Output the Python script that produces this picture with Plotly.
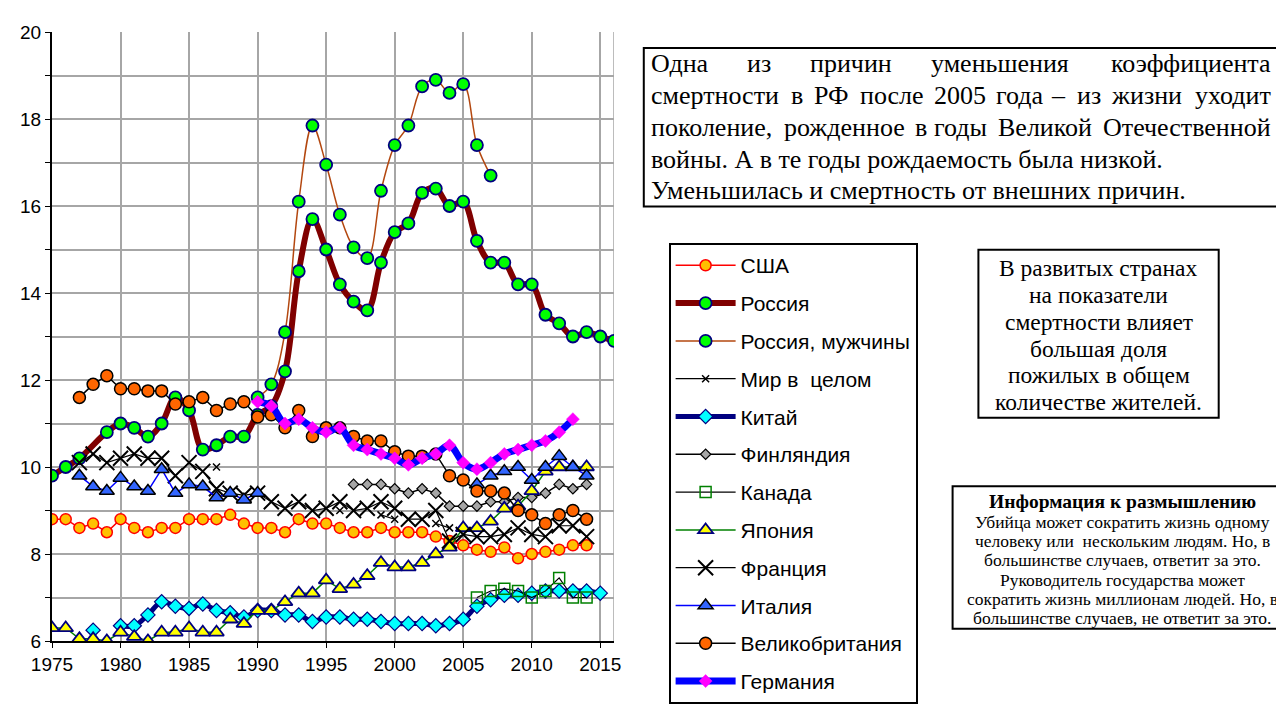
import plotly.graph_objects as go

# ---------------- data (crude death rate, per 1000) ----------------
usa_years = list(range(1975, 2015))
usa = [8.8, 8.8, 8.6, 8.7, 8.5, 8.8, 8.6, 8.5, 8.6, 8.6, 8.8, 8.8, 8.8, 8.9, 8.7,
       8.6, 8.6, 8.5, 8.8, 8.7, 8.7, 8.6, 8.5, 8.5, 8.6, 8.5, 8.5, 8.5, 8.4, 8.3,
       8.2, 8.1, 8.05, 8.15, 7.9, 8.0, 8.05, 8.1, 8.2, 8.2]

russia_years = list(range(1975, 2017))
russia = [9.8, 10.0, 10.2, None, 10.8, 11.0, 10.9, 10.7, 11.0, 11.6, 11.3, 10.4, 10.5, 10.7,
          10.7, 11.2, 11.4, 12.2, 14.5, 15.7, 15.0, 14.2, 13.8, 13.6, 14.7, 15.4, 15.6,
          16.3, 16.4, 16.0, 16.1, 15.2, 14.7, 14.7, 14.2, 14.2, 13.5, 13.3, 13.0, 13.1,
          13.0, 12.9]

russia_m_years = list(range(1990, 2008))
russia_m = [11.6, 11.9, 13.1, 16.1, 17.85, 16.95, 15.8, 15.05, 14.8, 16.35, 17.4, 17.85,
            18.75, 18.9, 18.6, 18.8, 17.4, 16.7]

world_years = [1987, 1988, 1996, 1997, 1999, 2000, 2001, 2003, 2004]
world = [10.0, None, 9.0, None, 8.9, 8.8, None, 8.7, 8.6]

china_years = list(range(1978, 2016))
china = [6.25, None, 6.35, 6.35, 6.6, 6.9, 6.8, 6.75, 6.85, 6.7, 6.65, 6.55, 6.7, 6.7,
         6.6, 6.6, 6.45, 6.55, 6.55, 6.5, 6.5, 6.45, 6.4, 6.4, 6.4, 6.35, 6.4, 6.5,
         6.8, 6.95, 7.05, 7.05, 7.1, 7.15, 7.15, 7.15, 7.15, 7.1]

finland_years = list(range(1997, 2015))
finland = [9.6, 9.6, 9.6, 9.5, 9.4, 9.5, 9.4, 9.1, 9.1, 9.1, 9.2, 9.2, 9.3, 9.3, 9.4,
           9.6, 9.5, 9.6]

canada_years = list(range(2006, 2015))
canada = [7.0, 7.15, 7.2, 7.15, 7.0, 7.15, 7.45, 7.0, 7.0]

japan_years = list(range(1975, 2015))
japan = [6.3, 6.3, 6.05, 6.05, 6.0, 6.2, 6.1, 6.0, 6.2, 6.2, 6.3, 6.2, 6.2, 6.5, 6.4,
         6.7, 6.7, 6.9, 7.1, 7.1, 7.4, 7.2, 7.3, 7.5, 7.8, 7.7, 7.7, 7.8, 8.0, 8.15,
         8.6, 8.6, 8.75, 9.05, 9.1, 9.45, 9.9, 10.0, 10.0, 10.0]

france_years = list(range(1977, 2015))
france = [10.1, 10.3, 10.1, 10.2, 10.3, 10.2, 10.2, 9.8, 10.1, 9.9, 9.5, 9.4, 9.35, 9.4,
          9.2, 9.05, 9.2, 9.0, 9.05, 9.2, 9.0, 9.05, 9.2, 9.05, 8.8, 8.8, 9.0, 8.3,
          8.45, 8.4, 8.4, 8.45, 8.6, 8.45, 8.4, 8.65, 8.65, 8.4]

italy_years = list(range(1977, 1991)) + [1998] + list(range(2006, 2015))
italy = [9.8, 9.55, 9.45, 9.75, 9.55, 9.45, 9.95, 9.4, 9.6, 9.55, 9.3, 9.4, 9.25, 9.4,
         None,
         9.6, 9.8, 9.9, 10.0, 9.7, 10.0, 10.25, 10.0, 9.8]

uk_years = list(range(1977, 2015))
uk = [11.6, 11.9, 12.1, 11.8, 11.8, 11.75, 11.75, 11.45, 11.5, 11.6, 11.3, 11.45, 11.5,
      11.15, 11.2, 10.9, 11.3, 10.7, 10.9, 10.9, 10.7, 10.6, 10.6, 10.35, 10.25, 10.25,
      10.3, 9.8, 9.7, 9.45, 9.45, 9.4, 9.0, 8.9, 8.7, 8.9, 9.0, 8.8]

germany_years = list(range(1990, 2014))
germany = [11.5, 11.4, 11.0, 11.1, 10.9, 10.8, 10.9, 10.5, 10.4, 10.3, 10.2, 10.05, 10.2,
           10.3, 10.5, 10.1, 9.95, 10.1, 10.3, 10.4, 10.5, 10.6, 10.8, 11.1]

x_ticks = list(range(1975, 2016, 5))
y_ticks = list(range(6, 21))
y_labels = [str(v) if v % 2 == 0 else "" for v in y_ticks]

# ---------------- figure ----------------
W, H = 1284, 708
PL, PR, PT, PB = 40, 606, 24, 673


def px(x):
    return (x - PL) / (PR - PL)


def py(y):
    return (PB - y) / (PB - PT)


NAVY = "#000080"
fig = go.Figure()


def add(name, xs, ys, line_color, line_width, symbol, size, fill, mline, mlw=1.5,
        shape="linear", connect=False):
    fig.add_trace(go.Scatter(
        x=xs, y=ys, name=name, mode="lines+markers", legendgroup=name,
        connectgaps=connect,
        line=dict(color=line_color, width=line_width, shape=shape),
        marker=dict(symbol=symbol, size=size, color=fill,
                    line=dict(color=mline, width=mlw)),
    ))


add("США", usa_years, usa, "#FF0000", 1.5, "circle", 11, "#FFC000", "#FF0000", 1.5)
add("Россия", russia_years, russia, "#800000", 6, "circle", 12, "#00FF00", NAVY, 1.8,
    shape="spline", connect=True)
add("Россия, мужчины", russia_m_years, russia_m, "#B3470F", 1.5, "circle", 12, "#00FF00",
    NAVY, 1.8, shape="spline")
add("Мир в  целом", world_years, world, "#000000", 1.2, "x-thin", 7, "#000000",
    "#000000", 1.5)
add("Китай", china_years, china, NAVY, 5, "diamond", 11, "#00FFFF", NAVY, 1.2,
    shape="spline")
add("Финляндия", finland_years, finland, "#000000", 1.5, "diamond", 8, "#A6A6A6",
    "#000000", 1.2)
add("Канада", canada_years, canada, "#000000", 1.2, "square-open", 11, "#008000",
    "#008000", 1.5)
add("Япония", japan_years, japan, "#008000", 1.5, "triangle-up", 13, "#FFFF00", NAVY, 1.8)
add("Франция", france_years, france, "#000000", 1.2, "x-thin", 15, "#000000",
    "#000000", 2)
add("Италия", italy_years, italy, "#0000FF", 1.5, "triangle-up", 13, "#3366FF",
    "#000000", 1.5)
add("Великобритания", uk_years, uk, "#000000", 1.5, "circle", 12, "#FF6600", "#000000", 1.5)
add("Германия", germany_years, germany, "#0000FF", 7, "diamond", 10, "#FF00FF", "#FF00FF",
    0.5, shape="spline")

GRID = "#A6A6A6"
fig.update_xaxes(range=[1975, 2016], tickvals=x_ticks, ticks="outside", ticklen=5,
                 tickcolor="#000000", showline=True, linecolor="#000000", linewidth=2,
                 showgrid=True, gridcolor=GRID, gridwidth=1.5, zeroline=False,
                 tickfont=dict(family="Liberation Sans, Arial", size=19, color="#000000"))
fig.update_yaxes(range=[6, 20], tickvals=y_ticks, ticktext=y_labels, ticks="outside",
                 ticklen=5, tickcolor="#000000", showline=True, linecolor="#000000",
                 linewidth=2, showgrid=True, gridcolor=GRID, gridwidth=1.5, zeroline=False,
                 tickfont=dict(family="Liberation Sans, Arial", size=19, color="#000000"))

shapes = [dict(type="line", xref="x", yref="y", x0=2016, x1=2016, y0=6, y1=20,
               line=dict(color=GRID, width=1.5), layer="below")]

SERIF = "Liberation Serif, Times New Roman"
ann = []


def box(x0, y0, x1, y1):
    shapes.append(dict(type="rect", xref="paper", yref="paper", x0=px(x0), x1=px(x1),
                       y0=py(y1), y1=py(y0), line=dict(color="#000000", width=2),
                       fillcolor="#FFFFFF", layer="above"))


def text(t, x, y, size, anchor="left", bold=False):
    if bold:
        t = "<b>" + t + "</b>"
    ann.append(dict(text=t, xref="paper", yref="paper", x=px(x), y=py(y), xanchor=anchor,
                    yanchor="middle", showarrow=False,
                    font=dict(family=SERIF, size=size, color="#000000")))


# approximate Times glyph widths (em) for justifying lines
CW = {"а": .444, "б": .5, "в": .472, "г": .41, "д": .509, "е": .444, "ж": .691, "з": .395,
      "и": .535, "й": .535, "к": .486, "л": .499, "м": .633, "н": .535, "о": .5, "п": .535,
      "р": .5, "с": .444, "т": .437, "у": .5, "ф": .648, "х": .5, "ц": .535, "ч": .503,
      "ш": .77, "щ": .77, "ъ": .517, "ы": .672, "ь": .456, "э": .429, "ю": .747, "я": .479,
      "О": .722, "Р": .556, "Ф": .79, "В": .667, "У": .711, "А": .722, ",": .25, ".": .25,
      "–": .5}
CW_SCALE = 1.03


def wlen(w, size):
    return sum(CW.get(c, .5) for c in w) * size * CW_SCALE


def justify(line, left, right, y, size):
    """first half of the words anchored from the left edge, the rest from the right"""
    words = line.split()
    widths = [wlen(w, size) for w in words]
    n = len(words)
    gap = (right - left - sum(widths)) / (n - 1)
    half = (n + 1) // 2
    x = left
    for i in range(half):
        text(words[i], x, y, size, "left")
        x += widths[i] + gap
    x = right
    for i in range(n - 1, half - 1, -1):
        text(words[i], x, y, size, "right")
        x -= widths[i] + gap


# box 1 (first three lines justified)
box(636, 41, 1275, 210)
b1 = 26
L1, R1 = 641, 1270
justify("Одна из причин уменьшения коэффициента", L1, R1, 58, b1)
justify("смертности в РФ после 2005 года – из жизни уходит", L1, R1, 92, b1)
justify("поколение, рожденное в годы Великой Отечественной", L1, R1, 126, b1)
text("войны. А в те годы рождаемость была низкой.", L1, 160, b1)
text("Уменьшилась и смертность от внешних причин.", L1, 193, b1)

# box 2
box(973, 256, 1215, 435)
for i, t in enumerate(["В развитых странах", "на показатели", "смертности влияет",
                       "большая доля", "пожилых в общем", "количестве жителей."]):
    text(t, 1094, 276 + i * 28.5, 23.5, "center")

# box 3
box(947, 508, 1292, 660)
text("Информация к размышлению", 1118, 524, 19.5, "center", bold=True)
for i, t in enumerate(["Убийца может сократить жизнь одному",
                       "человеку или  нескольким людям. Но, в",
                       "большинстве случаев, ответит за это.",
                       "Руководитель государства может",
                       "сократить жизнь миллионам людей. Но, в",
                       "большинстве случаев, не ответит за это."]):
    text(t, 1118, 546 + i * 20.5, 17.5, "center")

fig.update_layout(
    width=W, height=H,
    margin=dict(l=PL, r=W - PR, t=PT, b=H - PB, pad=0),
    paper_bgcolor="#FFFFFF", plot_bgcolor="#FFFFFF",
    showlegend=True,
    legend=dict(x=px(661), y=py(249), xanchor="left", yanchor="top",
                bordercolor="#000000", borderwidth=2, bgcolor="#FFFFFF",
                font=dict(family="Liberation Sans, Arial", size=21, color="#000000"),
                tracegroupgap=7.5, itemwidth=60, traceorder="grouped"),
    shapes=shapes, annotations=ann,
)

fig.write_html("out.html")
